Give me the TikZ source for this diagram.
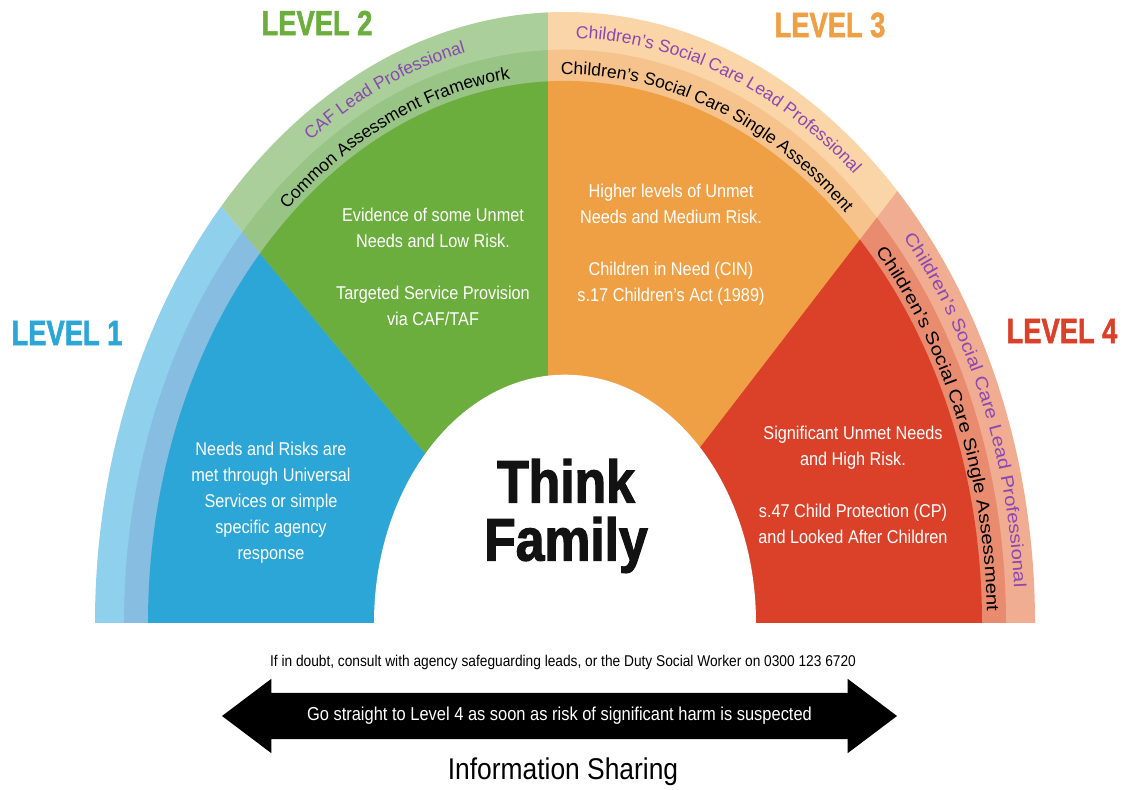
\documentclass[tikz,border=0pt]{standalone}
\usepackage{fontspec}
\setmainfont{Liberation Sans}
\newfontfamily\bodyfont[FakeStretch=0.88]{Liberation Sans}
\newfontfamily\headfont[FakeStretch=0.78,FakeBold=1.5]{Liberation Sans}
\newfontfamily\thinkfont[FakeStretch=0.86,FakeBold=2]{Liberation Sans}
\newfontfamily\sidefont[FakeStretch=1.17]{Liberation Sans}
\usepackage{tikz}
\usetikzlibrary{calc}
\usetikzlibrary{decorations.text, shapes.arrows}

\definecolor{lvlblueA}{HTML}{8FD0EC}
\definecolor{lvlblueB}{HTML}{87BDE0}
\definecolor{lvlblueC}{HTML}{2CA6D6}
\definecolor{lvlgreenA}{HTML}{AACF9B}
\definecolor{lvlgreenB}{HTML}{98C486}
\definecolor{lvlgreenC}{HTML}{6CAE3E}
\definecolor{lvlorangeA}{HTML}{F9D5A8}
\definecolor{lvlorangeB}{HTML}{F6C38C}
\definecolor{lvlorangeC}{HTML}{EFA045}
\definecolor{lvlredA}{HTML}{F0AD92}
\definecolor{lvlredB}{HTML}{E88B6F}
\definecolor{lvlredC}{HTML}{DB4129}
\definecolor{bandpurple}{HTML}{8B48B0}

\tikzset{
  leveltext/.style={text=white, align=center, font=\bodyfont\fontsize{18.5}{26}\selectfont},
  levellabel/.style={font=\headfont\bfseries\fontsize{35}{35}\selectfont},
}

% text along an arch band: start, end, radius, colour, font, text
\newcommand{\bandlabel}[6]{%
  \path[decorate, decoration={text along path, text align=center, text color=#4,
      text={|#5|#6}}]
    (C) ++(#1:#3 and 1.3*#3) arc[start angle=#1, end angle=#2, x radius=#3, y radius=1.3*#3];}

\begin{document}
\begin{tikzpicture}[x=1pt,y=1pt]
    \useasboundingbox (0,0) rectangle (1128,790);
    % Centre of the arch and sector edges
    \coordinate (C) at (565,167);
    \coordinate (p12) at ($(C)+(137:900 and 1170)$);
    \coordinate (p34) at ($(C)+(45:900 and 1170)$);

    % Draw bands, outer to inner
    \foreach \r/\s in {470/A,441/B,417/C}{
      \begin{scope}
        \clip (0,167) rectangle (1128,790);
        \clip (C) ellipse [x radius=\r, y radius=1.3*\r];
        \fill[lvlblue\s] (C) -- (p12) -- (-200,965) -- (-200,167) -- cycle;
        \fill[lvlgreen\s] (548,167) -- (548,1000) -- (p12) -- (C) -- cycle;
        \fill[lvlorange\s] (548,167) -- (548,1000) -- (p34) -- (C) -- cycle;
        \fill[lvlred\s] (C) -- (p34) -- (1400,994) -- (1400,167) -- cycle;
      \end{scope}
    }
    \fill[white] (C) ellipse [x radius=191, y radius=248.3];

    % Band texts
    \bandlabel{134}{92}{450}{bandpurple}{\fontsize{17.5}{17.5}\selectfont}{CAF Lead Professional}
    \bandlabel{135}{93}{422}{black}{\fontsize{17.5}{17.5}\selectfont}{Common Assessment Framework}
    \bandlabel{91}{48}{450}{bandpurple}{\fontsize{17.5}{17.5}\selectfont}{Children’s Social Care Lead Professional}
    \bandlabel{91}{48}{422}{black}{\fontsize{17.5}{17.5}\selectfont}{Children’s Social Care Single Assessment}
    \bandlabel{44}{1}{450}{bandpurple}{\sidefont\fontsize{17.5}{17.5}\selectfont}{Children’s Social Care Lead Professional}
    \bandlabel{44}{0}{422}{black}{\sidefont\fontsize{17.5}{17.5}\selectfont}{Children’s Social Care Single Assessment}

    % Level headings
    \node[levellabel, text=lvlblueC] (lone) at (67,457) {LEVEL 1};
    \node[levellabel, text=lvlgreenC] (ltwo) at (317,767) {LEVEL 2};
    \node[levellabel, text=lvlorangeC] (lthree) at (830,765) {LEVEL 3};
    \node[levellabel, text=lvlredC] (lfour) at (1062,459) {LEVEL 4};

    % Sector texts
    \node[leveltext] (universal) at (271,287) {Needs and Risks are\\met through Universal\\Services or simple\\specific agency\\response};
    \node[leveltext] (targeted) at (433,523) {Evidence of some Unmet\\Needs and Low Risk.\\[26pt]Targeted Service Provision\\via CAF/TAF};
    \node[leveltext] (cin) at (671,545) {Higher levels of Unmet\\Needs and Medium Risk.\\[26pt]Children in Need (CIN)\\s.17 Children’s Act (1989)};
    \node[leveltext] (cp) at (853,305) {Significant Unmet Needs\\and High Risk.\\[26pt]s.47 Child Protection (CP)\\and Looked After Children};

    \node[font=\thinkfont\bfseries\fontsize{60}{58}\selectfont, align=center, text=black!93] (think) at (566,274) {Think\\Family};

    % Bottom arrow
    \node[font=\bodyfont\fontsize{15.6}{15.6}\selectfont] (doubt) at (563,128) {If in doubt, consult with agency safeguarding leads, or the Duty Social Worker on 0300 123 6720};
    \node[double arrow, fill=black, text=white, minimum height=675pt, double arrow head extend=14pt,
      double arrow tip angle=74, inner xsep=0pt, inner ysep=14.5pt, text height=13pt, text depth=4pt,
      font=\bodyfont\fontsize{18.7}{18.7}\selectfont] (harm) at (559.5,74) {Go straight to Level 4 as soon as risk of significant harm is suspected};
    \node[font=\bodyfont\fontsize{30}{30}\selectfont] (sharing) at (563,18) {Information Sharing};

\end{tikzpicture}
\end{document}
